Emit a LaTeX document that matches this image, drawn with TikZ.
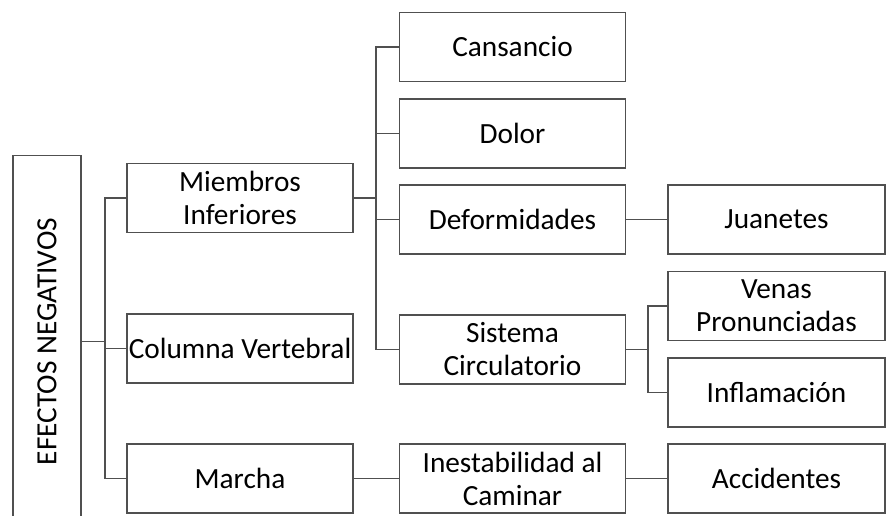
\documentclass[tikz,border=0pt]{standalone}
\usepackage{fontspec}
\setmainfont{Carlito}
\definecolor{borde}{HTML}{505050}
\tikzset{
  caja/.style={draw=borde, line width=1.1pt, minimum width=226pt, minimum height=69pt,
    inner sep=0pt, align=center, font=\fontsize{29.3}{33}\selectfont},
  cajac/.style={caja, minimum width=217pt},
  linea/.style={draw=borde, line width=1.1pt}
}
\begin{document}
\begin{tikzpicture}[x=1pt, y=-1pt]
\useasboundingbox (0,0) rectangle (886,515);

% Root: vertical box, runs past the bottom edge
\node[caja, rotate=90, minimum width=372pt, minimum height=68pt] (efectos) at (47,341.5) {EFECTOS NEGATIVOS};

% First level
\node[caja] (miembros) at (240,198) {Miembros\\Inferiores};
\node[caja] (columna) at (240,348.5) {Columna Vertebral};
\node[caja] (marcha) at (240,478.5) {Marcha};

% Second level
\node[caja] (cansancio) at (512.5,47) {Cansancio};
\node[caja] (dolor) at (512.5,133.5) {Dolor};
\node[caja] (deformidades) at (512.5,219.5) {Deformidades};
\node[caja] (sistema) at (512.5,349.5) {Sistema\\Circulatorio};
\node[caja] (inestabilidad) at (512.5,478.5) {Inestabilidad al\\Caminar};

% Third level
\node[cajac] (juanetes) at (776.5,219.5) {Juanetes};
\node[cajac] (venas) at (776.5,306) {Venas\\Pronunciadas};
\node[cajac] (inflamacion) at (776.5,392.5) {Inflamación};
\node[cajac] (accidentes) at (776.5,478.5) {Accidentes};

% Junction points of the trunks
\coordinate (j1) at (105,341.5);
\coordinate (j2) at (376,198);
\coordinate (j3) at (648,349.5);

% Root to first level
\draw[linea] (efectos.south) -- (j1);
\draw[linea] (j1) |- (miembros.west);
\draw[linea] (j1) |- (columna.west);
\draw[linea] (j1) |- (marcha.west);

% Miembros Inferiores branch
\draw[linea] (miembros.east) -- (j2);
\draw[linea] (j2) |- (cansancio.west);
\draw[linea] (j2) |- (dolor.west);
\draw[linea] (j2) |- (deformidades.west);
\draw[linea] (j2) |- (sistema.west);
\draw[linea] (deformidades.east) -- (juanetes.west);

% Sistema Circulatorio branch
\draw[linea] (sistema.east) -- (j3);
\draw[linea] (j3) |- (venas.west);
\draw[linea] (j3) |- (inflamacion.west);

% Marcha chain
\draw[linea] (marcha.east) -- (inestabilidad.west);
\draw[linea] (inestabilidad.east) -- (accidentes.west);

\end{tikzpicture}
\end{document}
